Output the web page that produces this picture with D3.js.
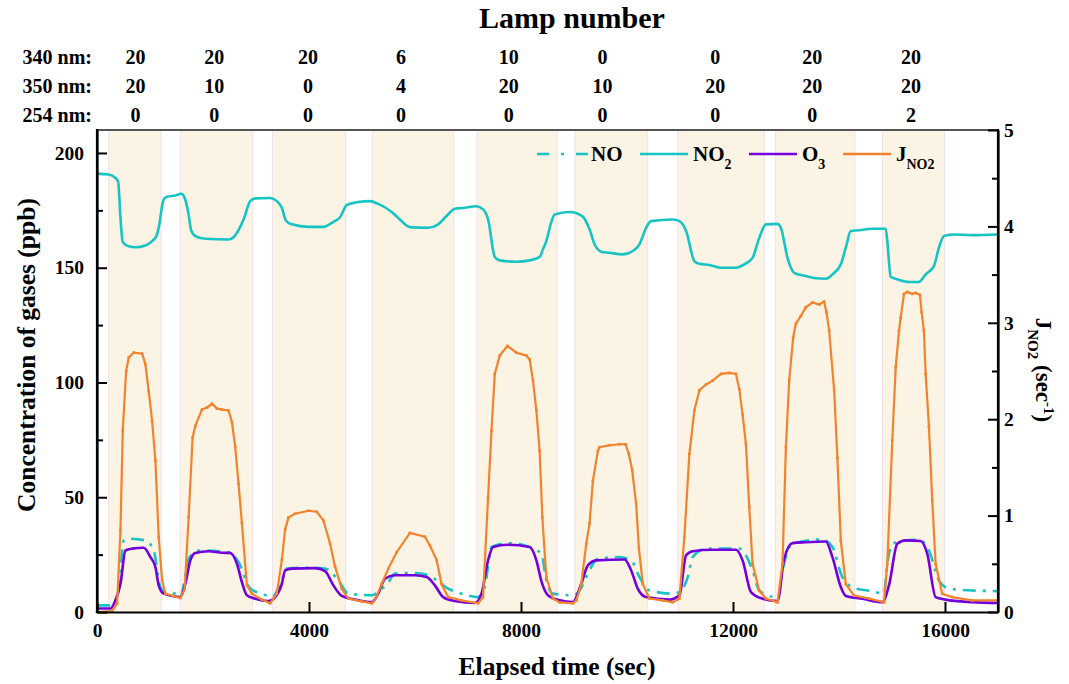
<!DOCTYPE html>
<html><head><meta charset="utf-8">
<script src="https://cdn.jsdelivr.net/npm/d3@7"></script>
<style>body{margin:0;background:#fff;}</style></head>
<body><svg id="c" width="1069" height="684"></svg>
<script>
// ---- data ----
const bandStart = [220,1570,3310,5190,7170,9020,10960,12800,14820];
const bandEnd   = [1210,2940,4690,6730,8680,10390,12590,14300,15990];
const labelTimes = [725,2213,3983,5734,7768,9539,11667,13493,15358];
const lamp340 = [20,20,20,6,10,0,0,20,20];
const lamp350 = [20,10,0,4,20,10,20,20,20];
const lamp254 = [0,0,0,0,0,0,0,0,2];
const rowLabels = ["340 nm:","350 nm:","254 nm:"];
const xTicks = [0,4000,8000,12000,16000];
const yLTicks = [0,50,100,150,200];
const yLMinor = [25,75,125,175];
const yRTicks = [0,1,2,3,4,5];
const yRMinor = [0.5,1.5,2.5,3.5,4.5];

const no2 = [[0,191],[222,190.6],[348,189.1],[399,187.4],[443,171.7],[486,161.2],[599,159.3],[725,158.9],[913,159.7],[1040,161.6],[1121,163.8],[1164,167.4],[1258,179.7],[1322,180.9],[1478,181.5],[1591,182.2],[1654,180.4],[1717,174.7],[1780,166],[1855,163.8],[2043,162.6],[2482,162.3],[2595,163.8],[2765,171],[2891,179],[2985,180.2],[3267,180.4],[3393,179],[3488,176.1],[3563,170.6],[3676,168.9],[3989,167.8],[4271,167.8],[4460,170],[4586,172],[4712,177.3],[4930,178.6],[5151,179],[5307,177.8],[5559,174.3],[5683,171.7],[5904,167.7],[6249,167.4],[6437,168.9],[6595,172.5],[6752,175.7],[6940,176.1],[7160,176.8],[7284,175.4],[7379,171],[7505,154.7],[7599,153.2],[7913,152.6],[8164,153.2],[8352,154.7],[8414,158],[8478,161.6],[8560,169],[8635,173.2],[8917,174.3],[9156,172.5],[9294,166.7],[9388,160.2],[9514,157],[9670,156.5],[9921,155.8],[10109,157.3],[10235,160.2],[10361,167.4],[10456,170.3],[10863,171],[10989,170.3],[11115,166],[11271,152.9],[11365,151.7],[11554,151.2],[11774,150],[12056,150],[12213,151.5],[12369,154.3],[12495,163],[12621,168.9],[12840,169.1],[12903,167.4],[13028,154.3],[13154,147.8],[13374,146.4],[13563,145.4],[13751,145.2],[13876,147.1],[14034,151.5],[14128,158.7],[14222,166],[14379,166.3],[14629,167],[14881,167],[14911,161.6],[14975,146.1],[15132,144.7],[15320,143.8],[15508,143.8],[15635,147.1],[15791,150.7],[15885,158.7],[15979,163.8],[16136,164.5],[16512,164.2],[17000,164.5]];

const jno2 = [[0,0],[286,0.01],[380,0.09],[443,0.85],[486,1.88],[550,2.50],[599,2.64],[693,2.69],[851,2.68],[913,2.57],[976,2.29],[1040,1.98],[1102,1.57],[1164,0.78],[1228,0.33],[1290,0.19],[1416,0.17],[1572,0.145],[1654,0.24],[1729,0.98],[1804,1.81],[1855,1.93],[1981,2.10],[2075,2.12],[2169,2.16],[2264,2.11],[2358,2.10],[2482,2.09],[2546,1.97],[2608,1.71],[2671,1.33],[2734,0.92],[2828,0.28],[2922,0.19],[3111,0.13],[3267,0.09],[3393,0.19],[3488,0.54],[3550,0.86],[3612,0.98],[3738,1.02],[3989,1.05],[4147,1.04],[4271,0.95],[4397,0.71],[4491,0.47],[4618,0.24],[4742,0.14],[4994,0.11],[5183,0.09],[5277,0.16],[5371,0.29],[5496,0.45],[5654,0.62],[5904,0.82],[6186,0.78],[6281,0.69],[6407,0.54],[6501,0.29],[6625,0.155],[6877,0.12],[7190,0.09],[7284,0.155],[7379,1.19],[7443,1.88],[7505,2.47],[7599,2.66],[7744,2.76],[7913,2.69],[8101,2.66],[8164,2.62],[8226,2.40],[8290,2.09],[8352,1.67],[8403,0.98],[8478,0.36],[8603,0.14],[8729,0.10],[8979,0.09],[9043,0.12],[9137,0.29],[9231,0.71],[9294,0.92],[9356,1.36],[9450,1.67],[9482,1.71],[9670,1.73],[9859,1.74],[9972,1.74],[10034,1.64],[10098,1.47],[10173,1.12],[10223,0.67],[10298,0.29],[10424,0.14],[10674,0.12],[10863,0.10],[10989,0.14],[11083,0.78],[11177,1.64],[11271,2.09],[11365,2.30],[11491,2.36],[11617,2.40],[11774,2.47],[11930,2.48],[12056,2.47],[12119,2.31],[12181,2.05],[12244,1.74],[12307,1.09],[12369,0.50],[12495,0.22],[12621,0.14],[12840,0.10],[12934,0.50],[12998,1.71],[13060,2.40],[13136,2.85],[13186,2.99],[13280,3.07],[13374,3.16],[13499,3.21],[13625,3.19],[13719,3.22],[13763,3.11],[13814,2.92],[13908,2.30],[13970,1.60],[14034,0.74],[14128,0.29],[14284,0.17],[14567,0.14],[14849,0.10],[14911,0.50],[15006,1.78],[15070,2.54],[15132,2.92],[15163,3.05],[15226,3.30],[15288,3.32],[15382,3.30],[15446,3.31],[15527,3.29],[15559,3.11],[15602,2.92],[15635,2.47],[15697,1.92],[15759,1.16],[15823,0.50],[15947,0.19],[16136,0.155],[16512,0.12],[17000,0.12]];

const o3 = [[0,1.5],[254,1.5],[348,5.1],[443,12.3],[537,26.8],[663,27.6],[881,28.0],[1008,23.9],[1102,19.6],[1164,11.6],[1258,8.0],[1572,6.5],[1667,12.3],[1761,22.5],[1855,25.7],[2106,26.5],[2358,25.8],[2514,25.7],[2640,21.0],[2734,13.0],[2828,7.3],[2985,5.8],[3235,4.8],[3362,6.5],[3488,12.3],[3550,18.1],[3676,18.9],[4115,19.1],[4303,17.8],[4460,11.6],[4618,7.0],[4868,5.4],[5183,4.3],[5307,8.0],[5433,14.5],[5621,16.0],[5998,16.0],[6218,15.2],[6375,11.6],[6531,6.5],[6752,4.8],[7128,3.9],[7254,8.0],[7379,22.5],[7473,28.3],[7755,29.3],[8164,28.3],[8290,22.5],[8390,13],[8509,7.3],[8729,5.1],[8979,4.3],[9137,12.3],[9262,20.3],[9419,22.5],[9953,22.9],[10079,18.1],[10203,10.2],[10361,6.5],[10800,5.4],[10989,7.3],[11115,24.7],[11239,26.5],[11617,27.1],[12056,27.1],[12181,22.5],[12339,8.7],[12558,5.8],[12840,4.8],[12966,23.2],[13123,30.0],[13374,30.4],[13751,30.7],[13876,23.9],[14034,10.9],[14128,7.0],[14441,5.8],[14817,4.3],[14943,11.6],[15100,29.7],[15257,31.2],[15540,30.9],[15665,25.4],[15823,6.5],[16011,5.4],[16512,4.3],[17000,3.9]];

const no = [[0,2.9],[286,2.9],[400,8],[505,31.2],[599,31.9],[913,31.2],[1070,26.8],[1196,10.9],[1290,8.7],[1478,8.0],[1572,6.5],[1729,23.2],[1917,26.8],[2482,26.1],[2671,21.7],[2891,10.2],[3111,8.0],[3299,6.5],[3488,13.8],[3582,18.9],[3989,19.3],[4303,18.9],[4554,13.8],[4742,8.0],[5183,7.3],[5339,9.4],[5500,13],[5621,16.7],[5998,17.0],[6249,16.0],[6625,10.2],[6877,8.0],[7190,6.5],[7316,10.9],[7443,28.3],[7755,30.0],[8070,29.0],[8384,25.4],[8478,13.8],[8603,8.0],[8979,7.3],[9106,9.4],[9231,15.2],[9450,23.2],[9859,23.9],[10079,22.5],[10235,15.2],[10424,9.4],[10863,8.0],[10989,8.7],[11146,15.2],[11239,23.9],[11491,27.6],[12119,27.6],[12369,18.1],[12495,9.4],[12746,6.5],[12840,5.8],[12934,18.1],[13123,29.7],[13688,31.6],[13876,28.3],[14064,15.2],[14316,10.2],[14629,9.1],[14849,8.0],[14911,21.0],[15006,29.7],[15257,31.2],[15508,31.5],[15697,26.8],[15885,13.8],[16073,10.2],[16512,9.4],[17000,9.1]];

// ---- drawing ----
const FONT = "'Liberation Serif','Times New Roman',serif";
const svg = d3.select("#c");
const L=97, R=998, T=130, B=612;
const x = d3.scaleLinear().domain([0,17000]).range([L,R]);
const yL = d3.scaleLinear().domain([0,210]).range([B,T]);
const yR = d3.scaleLinear().domain([0,5]).range([B,T]);

const C_NO="#17C4C4", C_O3="#7300DC", C_J="#F2832C";

function txt(sel, size){ return sel.style("font-family",FONT).style("font-weight","bold").style("font-size",size+"px").attr("fill","#000"); }

// bands
svg.append("g").selectAll("rect").data(bandStart).join("rect")
  .attr("x",(d,i)=>x(d)).attr("y",T)
  .attr("width",(d,i)=>x(bandEnd[i])-x(d)).attr("height",B-T)
  .attr("fill","#FBF3E4").attr("stroke","#F1E1EA").attr("stroke-width",1);

// lines
const lineL = d3.line().x(d=>x(d[0])).y(d=>yL(d[1])).curve(d3.curveMonotoneX);
const lineR = d3.line().x(d=>x(d[0])).y(d=>yR(d[1]));
svg.append("path").datum(no2).attr("d",lineL).attr("fill","none").attr("stroke",C_NO).attr("stroke-width",2.6);
svg.append("path").datum(no).attr("d",lineL).attr("fill","none").attr("stroke",C_NO).attr("stroke-width",2.6).attr("stroke-dasharray","13 7 3 7");
svg.append("path").datum(o3).attr("d",lineL).attr("fill","none").attr("stroke",C_O3).attr("stroke-width",2.6);
svg.append("path").datum(jno2).attr("d",lineR).attr("fill","none").attr("stroke",C_J).attr("stroke-width",2.2);
svg.append("g").selectAll("rect").data(jno2).join("rect")
  .attr("x",d=>x(d[0])-1.3).attr("y",d=>yR(d[1])-1.3).attr("width",2.6).attr("height",2.6).attr("fill",C_J);

// frame top
svg.append("line").attr("x1",L).attr("x2",R).attr("y1",T).attr("y2",T).attr("stroke","#555").attr("stroke-width",2);

// axes
function styleAxis(g){ g.attr("font-family",null).attr("font-size",null);
  g.selectAll("path.domain").attr("stroke","#000").attr("stroke-width",2.2);
  g.selectAll(".tick line").attr("stroke","#000").attr("stroke-width",2);
  txt(g.selectAll("text"),19.5); }

const gx = svg.append("g").attr("transform",`translate(0,${B})`)
  .call(d3.axisBottom(x).tickValues(xTicks).tickSizeInner(-10).tickSizeOuter(0).tickPadding(11).tickFormat(d3.format("d")));
styleAxis(gx);
const gl = svg.append("g").attr("transform",`translate(${L},0)`)
  .call(d3.axisLeft(yL).tickValues(yLTicks).tickSizeInner(-10).tickSizeOuter(0).tickPadding(13).tickFormat(d3.format("d")));
styleAxis(gl);
const glm = svg.append("g").attr("transform",`translate(${L},0)`)
  .call(d3.axisLeft(yL).tickValues(yLMinor).tickSize(-6).tickFormat(""));
styleAxis(glm); glm.select("path.domain").remove();
const gr = svg.append("g").attr("transform",`translate(${R},0)`)
  .call(d3.axisRight(yR).tickValues(yRTicks).tickSizeInner(-10).tickSizeOuter(0).tickPadding(6).tickFormat(d3.format("d")));
styleAxis(gr);
const grm = svg.append("g").attr("transform",`translate(${R},0)`)
  .call(d3.axisRight(yR).tickValues(yRMinor).tickSize(-6).tickFormat(""));
styleAxis(grm); grm.select("path.domain").remove();
svg.append("line").attr("x1",L).attr("x2",L).attr("y1",T-1).attr("y2",B+1).attr("stroke","#000").attr("stroke-width",2.2);
svg.append("line").attr("x1",R).attr("x2",R).attr("y1",T-1).attr("y2",B+1).attr("stroke","#000").attr("stroke-width",2.2);

// axis titles
txt(svg.append("text"),25.5).attr("x",557).attr("y",675).attr("text-anchor","middle").text("Elapsed time (sec)");
txt(svg.append("text"),25.5).attr("transform","translate(35,355) rotate(-90)").attr("text-anchor","middle").text("Concentration of gases (ppb)");
const rt = txt(svg.append("text"),23).attr("transform","translate(1036,370) rotate(90)").attr("text-anchor","middle");
rt.append("tspan").text("J");
rt.append("tspan").attr("baseline-shift","sub").style("font-size","15px").text("NO2");
rt.append("tspan").text(" (sec");
rt.append("tspan").attr("baseline-shift","super").style("font-size","15px").text("-1");
rt.append("tspan").text(")");

// header
txt(svg.append("text"),30).attr("x",572).attr("y",28).attr("text-anchor","middle").text("Lamp number");
const rows=[lamp340,lamp350,lamp254], rowY=[64,93,122];
rows.forEach((arr,r)=>{
  txt(svg.append("text"),20).attr("x",92).attr("y",rowY[r]).attr("text-anchor","end").text(rowLabels[r]);
  txt(svg.append("g").selectAll("text").data(arr).join("text"),20)
    .attr("x",(d,i)=>x(labelTimes[i])).attr("y",rowY[r]).attr("text-anchor","middle").text(d=>d);
});

// legend
const lg = svg.append("g");
const legY=154;
lg.append("line").attr("x1",537).attr("x2",588).attr("y1",legY).attr("y2",legY).attr("stroke",C_NO).attr("stroke-width",2.6).attr("stroke-dasharray","12 12 3 12");
txt(lg.append("text"),21).attr("x",591).attr("y",legY+7).text("NO");
lg.append("line").attr("x1",640).attr("x2",688).attr("y1",legY).attr("y2",legY).attr("stroke",C_NO).attr("stroke-width",2.6);
const t2=txt(lg.append("text"),21).attr("x",693).attr("y",legY+7);
t2.append("tspan").text("NO"); t2.append("tspan").attr("baseline-shift","sub").style("font-size","14px").text("2");
lg.append("line").attr("x1",749).attr("x2",797).attr("y1",legY).attr("y2",legY).attr("stroke",C_O3).attr("stroke-width",2.6);
const t3=txt(lg.append("text"),21).attr("x",802).attr("y",legY+7);
t3.append("tspan").text("O"); t3.append("tspan").attr("baseline-shift","sub").style("font-size","14px").text("3");
lg.append("line").attr("x1",843).attr("x2",891).attr("y1",legY).attr("y2",legY).attr("stroke",C_J).attr("stroke-width",2.6);
const t4=txt(lg.append("text"),21).attr("x",896).attr("y",legY+7);
t4.append("tspan").text("J"); t4.append("tspan").attr("baseline-shift","sub").style("font-size","14px").text("NO2");
</script></body></html>
